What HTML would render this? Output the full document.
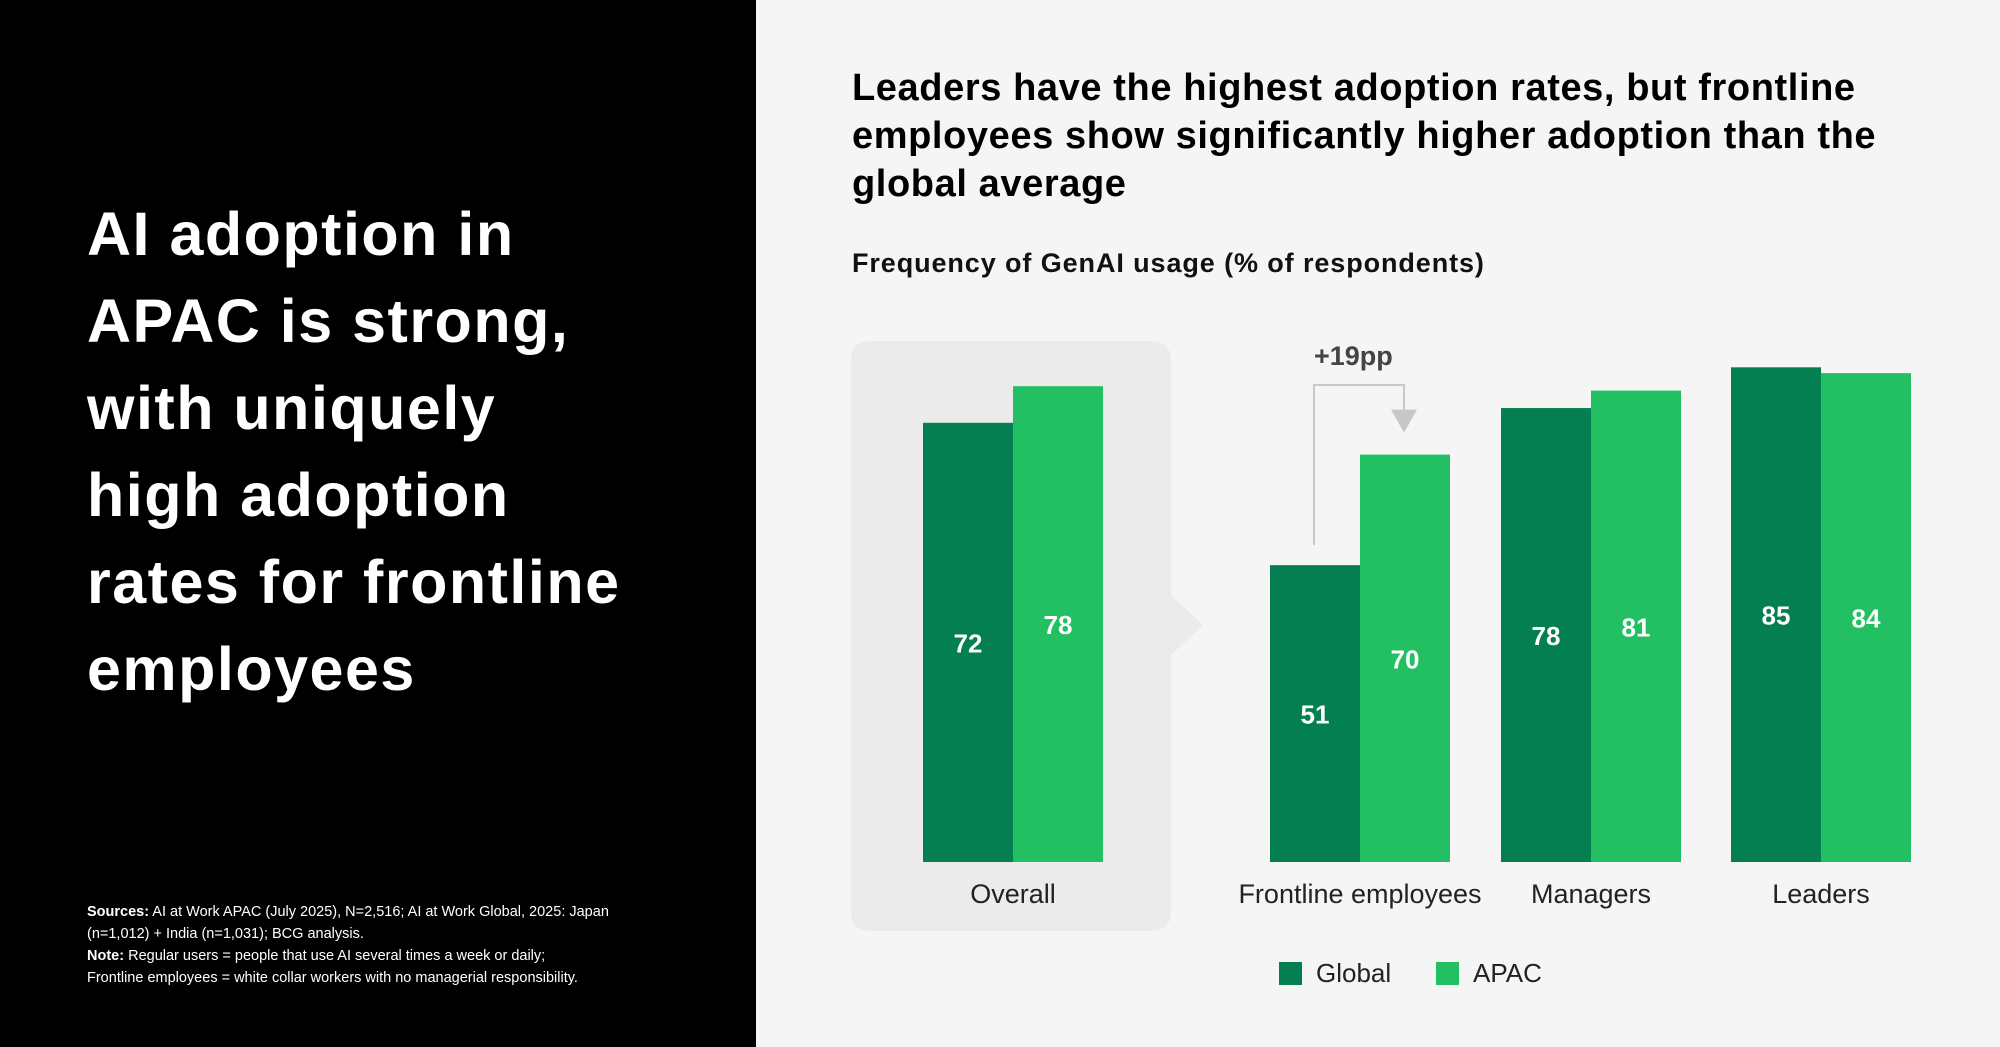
<!DOCTYPE html>
<html><head><meta charset="utf-8"><style>
body{margin:0;width:2000px;height:1047px;overflow:hidden;background:#f5f5f5;font-family:"Liberation Sans",sans-serif;position:relative}
#left{position:absolute;left:0;top:0;width:756px;height:1047px;background:#000}
#lt{position:absolute;left:87px;top:191px;color:#fff;font-weight:bold;font-size:61px;line-height:87px;margin:0;letter-spacing:1.5px}
#src{position:absolute;left:87px;top:901px;color:#fff;font-size:14.5px;line-height:22px;width:700px}
#rt{position:absolute;left:852px;top:64px;font-weight:bold;font-size:38px;line-height:48px;color:#000;margin:0;letter-spacing:0.6px}
#sub{position:absolute;left:852px;top:248px;font-weight:bold;font-size:27px;color:#111;letter-spacing:0.9px}
</style></head><body>
<div id="left"></div>
<h1 id="lt">AI adoption in<br>APAC is strong,<br>with uniquely<br>high adoption<br>rates for frontline<br>employees</h1>
<div id="src"><b>Sources:</b> AI at Work APAC (July 2025), N=2,516; AI at Work Global, 2025: Japan<br>(n=1,012) + India (n=1,031); BCG analysis.<br><b>Note:</b> Regular users = people that use AI several times a week or daily;<br>Frontline employees = white collar workers with no managerial responsibility.</div>
<h2 id="rt">Leaders have the highest adoption rates, but frontline<br>employees show significantly higher adoption than the<br>global average</h2>
<div id="sub">Frequency of GenAI usage (% of respondents)</div>
<svg id="chart" width="2000" height="1047" style="position:absolute;left:0;top:0">
<path d="M871 341 H1151 Q1171 341 1171 361 V595 L1203 625 L1171 655 V911 Q1171 931 1151 931 H871 Q851 931 851 911 V361 Q851 341 871 341Z" fill="#ebebeb"/>
</svg>
<script>
const categories=["Overall","Frontline employees","Managers","Leaders"];
const globalVals=[72,51,78,85];
const apacVals=[78,70,81,84];
const seriesNames=["Global","APAC"];
const colors=["#037f51","#22c063"];
const svg=document.getElementById('chart');
const NS="http://www.w3.org/2000/svg";
const base=862, barW=90;
const groupX=[923,1270,1501,1731];
const scaleY=[6.1,5.82,5.82,5.82];
function yH(v,i){return v*scaleY[i];}
function mk(t,a){const e=document.createElementNS(NS,t);for(const k in a)e.setAttribute(k,a[k]);svg.appendChild(e);return e;}
categories.forEach((c,i)=>{
  [globalVals[i],apacVals[i]].forEach((v,s)=>{
    const h=yH(v,i),x=groupX[i]+s*barW;
    const r=mk('rect',{x:x,y:base-h,width:barW,height:h,fill:colors[s]});
    
    
    const t=mk('text',{x:x+barW/2,y:base-h/2+10,'text-anchor':'middle',fill:'#fff','font-size':26,'font-weight':'bold','font-family':'Liberation Sans'});
    t.textContent=v;
    
    
  });
  const l=mk('text',{x:groupX[i]+barW,y:903,'text-anchor':'middle',fill:'#222','font-size':27,'font-family':'Liberation Sans'});
  l.textContent=c;
  
  
});
const gTop=base-yH(globalVals[1],1), aTop=base-yH(apacVals[1],1);
const bx1=groupX[1]+44, bx2=groupX[1]+barW+44, by=385;
const p=mk('path',{d:`M${bx1} ${gTop-20} V${by} H${bx2} V${aTop-45}`,fill:'none',stroke:'#c8c8c8','stroke-width':2});


const ar=mk('path',{d:`M${bx2-13} ${aTop-45} H${bx2+13} L${bx2} ${aTop-22}Z`,fill:'#c8c8c8'});


const an=mk('text',{x:bx1,y:365,fill:'#444','font-size':27,'font-weight':'bold','font-family':'Liberation Sans'});
an.textContent='+'+(apacVals[1]-globalVals[1])+'pp';


const lx=[1279,1436];
seriesNames.forEach((n,s)=>{
  const r=mk('rect',{x:lx[s],y:962,width:23,height:23,fill:colors[s]});
  
  
  const t=mk('text',{x:lx[s]+37,y:982,fill:'#222','font-size':26,'font-family':'Liberation Sans'});
  t.textContent=n;
  
  
});
</script>
</body></html>
